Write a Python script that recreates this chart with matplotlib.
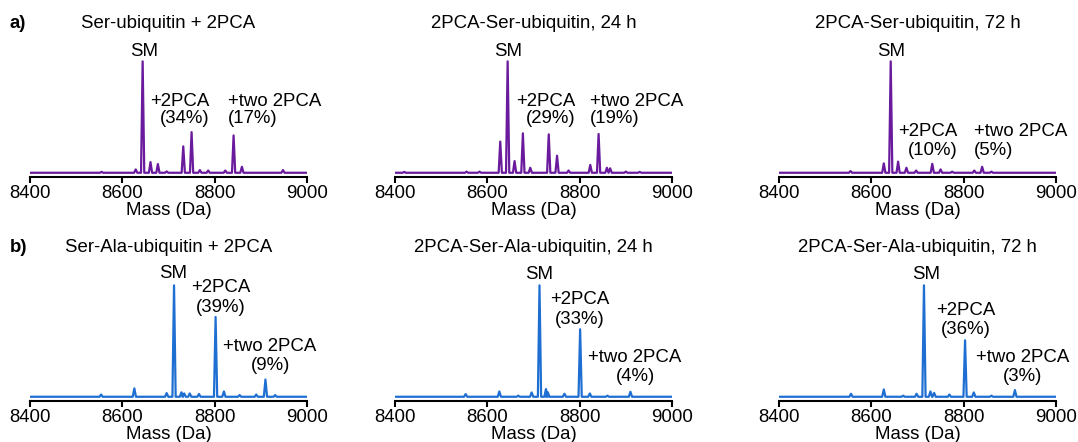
import matplotlib
matplotlib.use("Agg")
import matplotlib.pyplot as plt

plt.rcParams["font.family"] = ["Liberation Sans", "DejaVu Sans"]

W, H, DPI = 1078, 442, 100

# ---- deconvoluted spectra: peak masses (Da) and relative intensities (SM = 100) ----
ser_mix_mass = [8555, 8629, 8644, 8661, 8677, 8696, 8732, 8750, 8768, 8786, 8823, 8841, 8859, 8948]
ser_mix_int = [0.8, 3.0, 100, 9.6, 7.8, 1.2, 23.7, 36.5, 2.4, 2.0, 2.0, 33.5, 5.4, 2.4]

ser_24h_mass = [8420, 8555, 8583, 8628, 8644, 8659, 8677, 8693, 8733, 8751, 8776, 8823, 8841, 8859, 8866, 8900, 8930]
ser_24h_int = [0.8, 1.0, 1.0, 28.0, 100, 10.5, 35.4, 4.5, 34.5, 15.3, 2.0, 7.0, 34.8, 4.5, 4.0, 1.0, 0.8]

ser_72h_mass = [8555, 8627, 8642, 8658, 8676, 8697, 8732, 8750, 8775, 8823, 8840, 8860]
ser_72h_int = [1.5, 8.4, 100, 10.0, 4.5, 2.0, 8.0, 3.0, 1.0, 2.0, 5.4, 1.0]

ala_mix_mass = [8554, 8626, 8696, 8712, 8728, 8734, 8746, 8766, 8802, 8820, 8854, 8890, 8910, 8931]
ala_mix_int = [2.0, 7.5, 3.3, 100, 4.0, 3.0, 3.0, 2.5, 71.6, 4.8, 1.5, 2.0, 15.5, 1.5]

ala_24h_mass = [8553, 8626, 8667, 8696, 8713, 8727, 8731, 8767, 8801, 8822, 8860, 8910]
ala_24h_int = [2.4, 4.8, 1.0, 3.9, 100, 6.9, 4.0, 2.7, 60.6, 3.0, 1.0, 4.5]

ala_72h_mass = [8556, 8627, 8669, 8698, 8714, 8728, 8736, 8769, 8803, 8822, 8860, 8911]
ala_72h_int = [2.7, 6.6, 1.0, 2.7, 100, 4.8, 3.5, 2.0, 50.7, 3.9, 1.0, 6.0]

titles_a = ["Ser-ubiquitin + 2PCA", "2PCA-Ser-ubiquitin, 24 h", "2PCA-Ser-ubiquitin, 72 h"]
titles_b = ["Ser-Ala-ubiquitin + 2PCA", "2PCA-Ser-Ala-ubiquitin, 24 h", "2PCA-Ser-Ala-ubiquitin, 72 h"]

mono_pct_a = ["34%", "29%", "10%"]
di_pct_a = ["17%", "19%", "5%"]
mono_pct_b = ["39%", "33%", "36%"]
di_pct_b = ["9%", "4%", "3%"]

x_ticks = [8400, 8600, 8800, 9000]

PURPLE = "#6a1a9c"
BLUE = "#1f6fd2"

# label anchor positions (mass, intensity) for: SM, "+2PCA", "(x%)", "+two 2PCA", "(y%)"
label_pos_a = [
    [(8648, 109), (8724, 64), (8736, 49), (8930, 64), (8882, 49)],
    [(8646, 109), (8727, 64), (8738, 49), (8923, 64), (8875, 49)],
    [(8643, 109), (8723, 37), (8734, 20), (8923, 37), (8865, 20)],
]
label_pos_b = [
    [(8711, 111), (8813, 98), (8813, 80), (8920, 45), (8920, 28)],
    [(8712, 110), (8801, 87), (8801, 69), (8920, 35), (8920, 18)],
    [(8719, 110), (8805, 77), (8805, 60), (8927, 35), (8927, 18.5)],
]


def spectrum_path(mass, inten, hw=3.5, lo=8400, hi=9000):
    xs, ys = [lo], [0.0]
    for m, h in sorted(zip(mass, inten)):
        xs += [m - hw, m, m + hw]
        ys += [0.0, h, 0.0]
    xs.append(hi)
    ys.append(0.0)
    return xs, ys


fig = plt.figure(figsize=(W / DPI, H / DPI), dpi=DPI)

col_left = [30, 395, 779]
col_w = 277
row_bottom = [177, 401]
ax_h = 137
px_per_unit = 1.114
y_min = -3.8
y_max = ax_h / px_per_unit + y_min

FS = 13.4

rows = [
    ([(ser_mix_mass, ser_mix_int), (ser_24h_mass, ser_24h_int), (ser_72h_mass, ser_72h_int)],
     titles_a, mono_pct_a, di_pct_a, label_pos_a, PURPLE, "a)", 24),
    ([(ala_mix_mass, ala_mix_int), (ala_24h_mass, ala_24h_int), (ala_72h_mass, ala_72h_int)],
     titles_b, mono_pct_b, di_pct_b, label_pos_b, BLUE, "b)", 247),
]

for r, (spectra, titles, mono, di, lpos, color, letter, title_y) in enumerate(rows):
    for c in range(3):
        left = col_left[c] / W
        bottom = 1 - row_bottom[r] / H
        ax = fig.add_axes([left, bottom, col_w / W, ax_h / H])
        mass, inten = spectra[c]
        xs, ys = spectrum_path(mass, inten)
        ax.plot(xs, ys, color=color, lw=1.6, solid_joinstyle="round")
        ax.set_xlim(8400, 9000)
        ax.set_ylim(y_min, y_max)
        for s in ("top", "right", "left"):
            ax.spines[s].set_visible(False)
        ax.spines["bottom"].set_linewidth(1.5)
        ax.set_yticks([])
        ax.set_xticks(x_ticks)
        ax.set_xticklabels([str(t) for t in x_ticks], fontsize=FS)
        ax.tick_params(axis="x", length=4, width=1.5, pad=2)
        ax.set_xlabel("Mass (Da)", fontsize=FS, labelpad=0)
        ax.patch.set_alpha(0)

        texts = ["SM", "+2PCA", f"({mono[c]})", "+two 2PCA", f"({di[c]})"]
        for t, (x, y) in zip(texts, lpos[c]):
            ax.text(x, y, t, ha="center", va="center", fontsize=FS, clip_on=False)

        cx = (col_left[c] + col_w / 2) / W
        fig.text(cx, 1 - title_y / H, titles[c], ha="center", va="center", fontsize=FS)

    fig.text(10 / W, 1 - title_y / H, letter, ha="left", va="center",
             fontsize=FS, fontweight="bold")

fig.savefig("out.png", dpi=DPI)
